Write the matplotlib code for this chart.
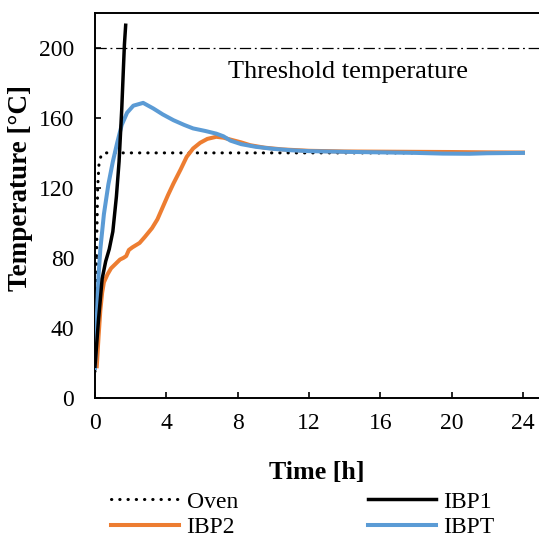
import numpy as np
import matplotlib
matplotlib.use("Agg")
import matplotlib.pyplot as plt

plt.rcParams['font.family'] = ['Liberation Serif', 'DejaVu Serif']

# oven set point (dotted)
oven_t = [0, 0.05, 0.1, 0.15, 0.22, 0.35, 0.6, 24]
oven_T = [15, 50, 90, 120, 133, 139, 140, 140]

# IBP1 (black), runaway before 2 h
ibp1_t = [0, 0.2, 0.4, 0.6, 0.8, 1.0, 1.2, 1.35, 1.5, 1.6, 1.65, 1.72]
ibp1_T = [18, 45, 68, 78, 85, 95, 115, 135, 165, 190, 202, 213]

# IBP2 (orange)
ibp2_t = [0.1, 0.2, 0.3, 0.4, 0.5, 0.7, 0.9, 1.2, 1.4, 1.6, 1.75, 1.9, 2.1, 2.5, 2.8,
          3.2, 3.5, 3.8, 4.1, 4.4, 4.8, 5.14, 5.5, 5.9, 6.3, 6.8, 7.2, 7.6, 8.2, 8.7,
          9.5, 10.5, 12, 14, 16, 18, 20, 22, 24]
ibp2_T = [18, 35, 50, 60, 66, 70.5, 74, 77, 79, 80, 81, 84.5, 86, 88.5, 92,
          97, 102, 109, 116, 122.5, 130.5, 137.7, 142.5, 145.8, 148, 149.2, 148.7, 147.6, 146, 144.4,
          143, 142, 141.2, 140.8, 140.7, 140.6, 140.5, 140.3, 140.2]

# IBPT (blue)
ibpt_t = [0, 0.1, 0.2, 0.3, 0.5, 0.75, 1.0, 1.25, 1.5, 1.8, 2.15, 2.7, 3.27, 3.8, 4.4,
          5.0, 5.5, 6.2, 6.8, 7.2, 7.6, 8.2, 9, 10, 11, 12, 14, 16, 18, 19.5, 21, 22, 24]
ibpt_T = [17, 45, 70, 85, 105, 122, 135, 146, 156, 163, 167, 168.6, 165.4, 162, 158.7,
          156, 154, 152.5, 151, 149.5, 147, 145, 143.5, 142.3, 141.5, 141, 140.6, 140.3, 140, 139.6, 139.5, 139.8, 140]

threshold = 200

fig = plt.figure(figsize=(5.39, 5.41), dpi=100)
ax = fig.add_axes([95 / 539, 1 - 397.7 / 541, 1 - 95 / 539, (397.7 - 13) / 541])

ax.axhline(threshold, color='black', lw=0.9, ls=(0, (9, 3, 1.5, 3)), zorder=1)
l_oven, = ax.plot(oven_t, oven_T, color='black', lw=2.2, ls=(0, (0.1, 2.6)),
                  dash_capstyle='round', label='Oven', zorder=2)
l_ibp2, = ax.plot(ibp2_t, ibp2_T, color='#ED7D31', lw=2.9, label='IBP2', zorder=3,
                  solid_joinstyle='round')
l_ibpt, = ax.plot(ibpt_t, ibpt_T, color='#5B9BD5', lw=2.9, label='IBPT', zorder=4,
                  solid_joinstyle='round')
l_ibp1, = ax.plot(ibp1_t, ibp1_T, color='black', lw=2.5, label='IBP1', zorder=5,
                  solid_joinstyle='round')

ax.text(14.2, 186, 'Threshold temperature', fontsize=19, ha='center', va='center')

ax.set_xlim(0, 24.9)
ax.set_ylim(0, 220)
ax.set_xticks(np.arange(0, 25, 4))
ax.set_yticks(np.arange(0, 201, 40))
ax.spines['right'].set_visible(False)
for s in ['left', 'top', 'bottom']:
    ax.spines[s].set_linewidth(1.4)
ax.tick_params(direction='in', length=4, width=1.2, labelsize=17)
ax.tick_params(axis='y', pad=15)
ax.tick_params(axis='x', pad=11)

ax.set_xlabel('Time [h]', fontsize=18.7, fontweight='bold')
ax.xaxis.set_label_coords(0.5, -0.165)
ax.set_ylabel('Temperature [°C]', fontsize=19.5, fontweight='bold')
ax.yaxis.set_label_coords(-0.14, 0.545)

fig.legend([l_oven, l_ibp2, l_ibp1, l_ibpt], ['Oven', 'IBP2', 'IBP1', 'IBPT'],
           ncol=2, loc='upper left', bbox_to_anchor=(111 / 539, 1 - 491 / 541),
           frameon=False, fontsize=17, handlelength=2.9, handletextpad=0.3,
           columnspacing=5.5, labelspacing=0.16, borderpad=0, borderaxespad=0)

fig.savefig('out.png', dpi=100)
